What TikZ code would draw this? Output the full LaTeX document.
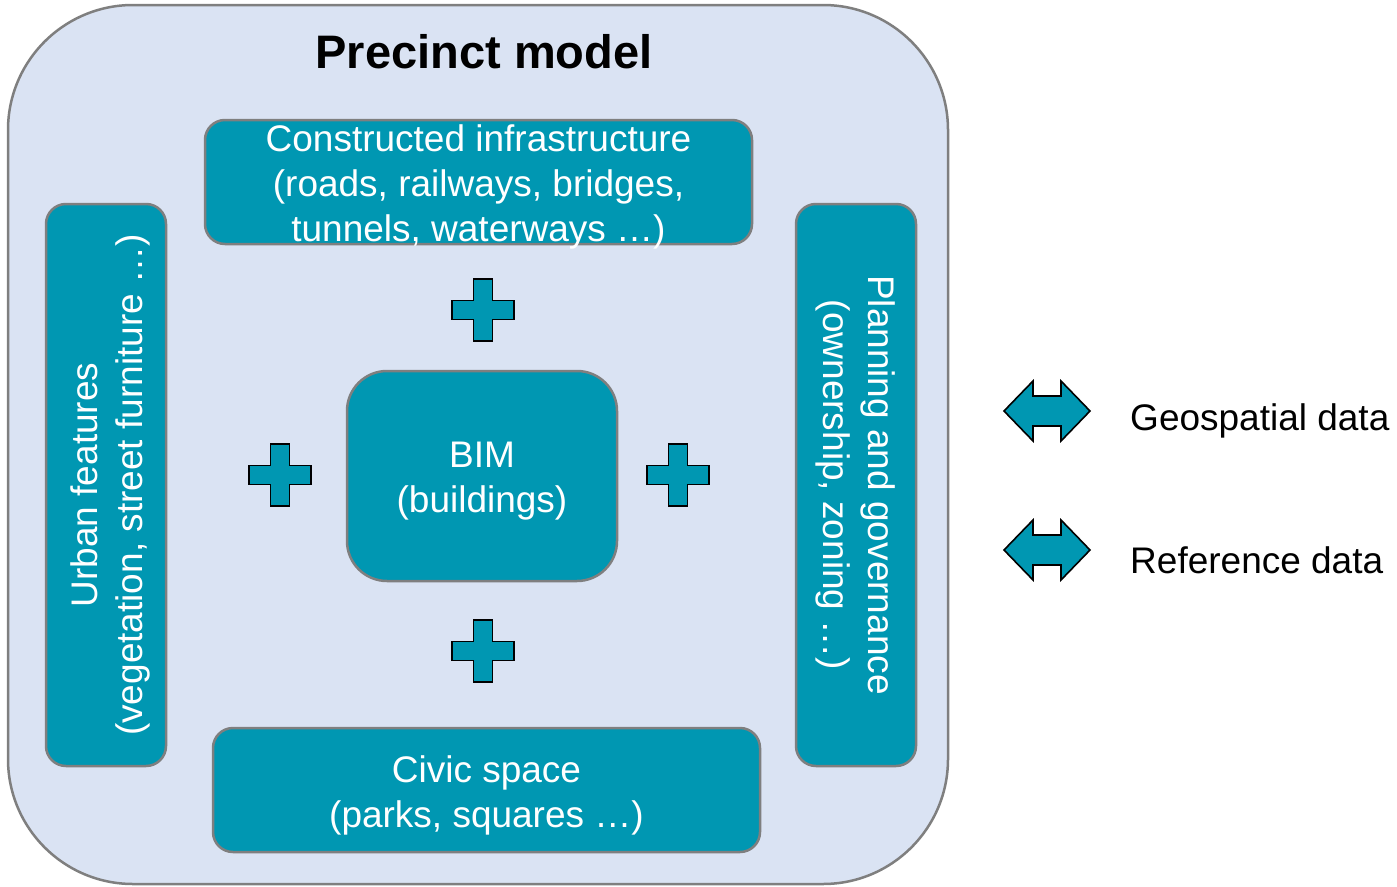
\documentclass[tikz,border=0pt]{standalone}
\usepackage{fontspec}
\setmainfont{Liberation Sans}
\definecolor{teal1}{RGB}{0,151,178}
\definecolor{bgblue}{RGB}{218,227,243}
\definecolor{edgegray}{RGB}{127,127,127}
\tikzset{
  box/.style={draw=edgegray, line width=2.5pt, fill=teal1, rounded corners=20pt, inner sep=0pt},
  boxtext/.style={text=white, align=center, inner sep=0pt, font=\fontsize{37}{45}\selectfont},
  symb/.style={draw=black, line width=1.6pt, fill=teal1, line join=miter},
  legtext/.style={anchor=west, inner sep=0pt, font=\fontsize{37}{45}\selectfont},
  pics/plussign/.style={code={
    \draw[symb] (-9.5,-31) -- (9.5,-31) -- (9.5,-9.5) -- (31,-9.5) -- (31,9.5) -- (9.5,9.5)
      -- (9.5,31) -- (-9.5,31) -- (-9.5,9.5) -- (-31,9.5) -- (-31,-9.5) -- (-9.5,-9.5) -- cycle;}},
  pics/dblarrow/.style={code={
    \draw[symb] (-43,0) -- (-14,-30) -- (-14,-15) -- (14,-15) -- (14,-30) -- (43,0)
      -- (14,30) -- (14,15) -- (-14,15) -- (-14,30) -- cycle;}}
}
\begin{document}
\begin{tikzpicture}[x=1pt,y=-1pt]
\useasboundingbox (0,0) rectangle (1397,886);
\node[draw=edgegray, line width=2.5pt, fill=bgblue, rounded corners=125pt,
  minimum width=940pt, minimum height=879pt, inner sep=0pt] (outer) at (478,444.5) {};
\node[font=\fontsize{47}{56}\selectfont\bfseries, inner sep=0pt] (title) at (484,52) {Precinct model};
\node[box, minimum width=547pt, minimum height=124pt] (infra) at (478.5,182) {};
\node[boxtext] (infratext) at ([yshift=-5pt]infra.center)
  {Constructed infrastructure\\(roads, railways, bridges,\\tunnels, waterways \dots)};
\node[box, minimum width=547pt, minimum height=124pt] (civic) at (486.5,790) {};
\node[boxtext] (civictext) at ([yshift=-5pt]civic.center) {Civic space\\(parks, squares \dots)};
\node[box, rounded corners=40pt, minimum width=270pt, minimum height=210pt] (bim) at (482,476) {};
\node[boxtext] (bimtext) at ([yshift=-5pt]bim.center) {BIM\\(buildings)};
\node[box, minimum width=120pt, minimum height=562pt] (urban) at (106,485) {};
\node[boxtext, rotate=90] (urbantext) at ([xshift=4pt]urban.center)
  {Urban features\\(vegetation, street furniture \dots)};
\node[box, minimum width=120pt, minimum height=562pt] (plan) at (856,485) {};
\node[boxtext, rotate=-90] (plantext) at (plan.center)
  {Planning and governance\\(ownership, zoning \dots)};
\pic at (483,310) {plussign};
\pic at (280,475) {plussign};
\pic at (678,475) {plussign};
\pic at (483,651) {plussign};
\pic at (1047,411) {dblarrow};
\pic at (1047,550) {dblarrow};
\node[legtext] (geo) at (1130,421) {Geospatial data};
\node[legtext] (ref) at (1130,560) {Reference data};
\end{tikzpicture}
\end{document}
